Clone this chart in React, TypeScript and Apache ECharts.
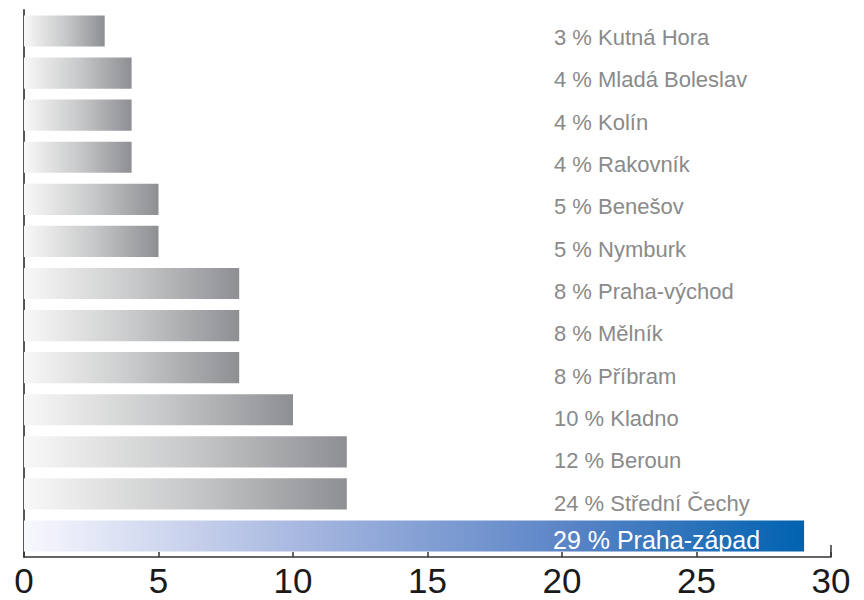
import React, { useEffect, useRef } from "react";
import * as echarts from "echarts";

const categories = [
  "Kutná Hora", "Mladá Boleslav", "Kolín", "Rakovník", "Benešov", "Nymburk",
  "Praha-východ", "Mělník", "Příbram", "Kladno", "Beroun", "Střední Čechy", "Praha-západ",
];
const barValues = [3, 4, 4, 4, 5, 5, 8, 8, 8, 10, 12, 12, 29];
const percentLabels = [3, 4, 4, 4, 5, 5, 8, 8, 8, 10, 12, 24, 29];
const highlighted = "Praha-západ";
const xTicks = { min: 0, max: 30, interval: 5 };

const FONT = "'Liberation Sans', Arial, Helvetica, sans-serif";

export default function App() {
  const ref = useRef<HTMLDivElement>(null);
  useEffect(() => {
    document.body.style.margin = "0";
    const chart = echarts.init(ref.current!, null, { renderer: "svg" });
    const grayGrad = new echarts.graphic.LinearGradient(0, 0, 1, 0, [
      { offset: 0, color: "#f8f8f8" },
      { offset: 0.5, color: "#c9cacb" },
      { offset: 1, color: "#8e8f93" },
    ]);
    const blueGrad = new echarts.graphic.LinearGradient(0, 0, 1, 0, [
      { offset: 0, color: "#f8f8fe" },
      { offset: 0.35, color: "#a8b8e0" },
      { offset: 0.7, color: "#5a84c6" },
      { offset: 1, color: "#0062b0" },
    ]);
    const data = categories.map((c, i) => {
      const hl = c === highlighted;
      return {
        value: barValues[i],
        itemStyle: { color: hl ? blueGrad : grayGrad },
        label: hl
          ? { color: "#ffffff", fontSize: 25, position: [529, 20] }
          : { color: "#8a8a8a", fontSize: 22, position: [530, 22 + i * 0.27] },
      };
    });
    chart.setOption({
      animation: false,
      grid: { left: 24, right: 33, top: 10, bottom: 43, containLabel: false },
      xAxis: {
        type: "value",
        min: xTicks.min,
        max: xTicks.max,
        interval: xTicks.interval,
        axisLine: { show: true, lineStyle: { color: "#333", width: 1.5 } },
        axisTick: { show: true, inside: true, length: 5, lineStyle: { color: "#333", width: 1.5 } },
        axisLabel: { color: "#1a1a1a", fontSize: 35, fontFamily: FONT, margin: 6 },
        splitLine: { show: false },
      },
      yAxis: {
        type: "category",
        inverse: true,
        data: categories,
        axisLine: { show: true, lineStyle: { color: "#555", width: 2 } },
        axisTick: { show: false },
        axisLabel: { show: false },
      },
      series: [
        {
          type: "bar",
          data,
          barCategoryGap: "26%",
          label: {
            show: true,
            verticalAlign: "middle",
            align: "left",
            fontFamily: FONT,
            formatter: (p: any) => `${percentLabels[p.dataIndex]} % ${categories[p.dataIndex]}`,
          },
        },
      ],
    });
    const p30 = chart.convertToPixel({ xAxisIndex: 0 }, xTicks.max) as number;
    const axisY = 600 - 43;
    chart.setOption({
      graphic: [
        {
          type: "line",
          shape: { x1: p30, y1: axisY - 12, x2: p30, y2: axisY },
          style: { stroke: "#333", lineWidth: 1.5 },
          z: 10,
        },
      ],
    });
    return () => chart.dispose();
  }, []);
  return <div ref={ref} style={{ width: 864, height: 600 }} />;
}
